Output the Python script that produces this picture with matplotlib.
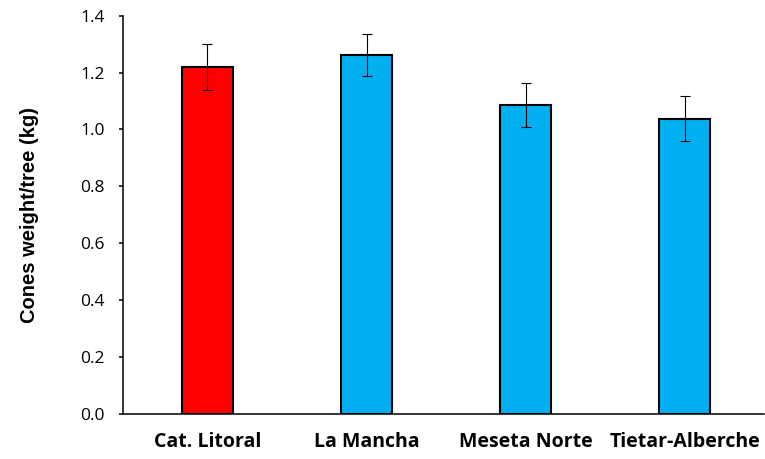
import matplotlib
matplotlib.use("Agg")
import matplotlib.pyplot as plt

categories = ["Cat. Litoral", "La Mancha", "Meseta Norte", "Tietar-Alberche"]
values = [1.219, 1.263, 1.087, 1.038]
errors = [0.082, 0.074, 0.077, 0.078]
colors = ["#FF0000", "#00B0F0", "#00B0F0", "#00B0F0"]
yticks = [0.0, 0.2, 0.4, 0.6, 0.8, 1.0, 1.2, 1.4]

fig = plt.figure(figsize=(7.65, 4.59), dpi=100)
ax = fig.add_axes([0.161, 0.098, 0.838, 0.868])

x = list(range(len(categories)))
ax.bar(x, values, width=0.32, color=colors, edgecolor="black", linewidth=1.5, zorder=2)
ax.errorbar(x, values, yerr=errors, fmt="none", ecolor="black", elinewidth=0.8,
            capsize=3.3, capthick=0.8, zorder=3)

ax.set_xlim(-0.53, 3.5)
ax.set_ylim(0, 1.4)
ax.set_yticks(yticks)
ax.set_yticklabels([f"{t:.1f}" for t in yticks], fontsize=12.5, family=["Open Sans", "DejaVu Sans"])
ax.set_xticks(x)
ax.set_xticklabels(categories, fontsize=14, fontweight="bold", family=["Open Sans", "DejaVu Sans"])
ax.tick_params(axis="x", length=0, pad=13)
ax.tick_params(axis="y", direction="out", length=3, width=1.1, pad=10)
for s in ["top", "right"]:
    ax.spines[s].set_visible(False)
for s in ["left", "bottom"]:
    ax.spines[s].set_linewidth(1.1)
ax.set_ylabel("Cones weight/tree (kg)", fontsize=14.5, fontweight="bold",
              family=["Liberation Sans", "DejaVu Sans"], labelpad=30)

fig.savefig("out.png", dpi=100)
